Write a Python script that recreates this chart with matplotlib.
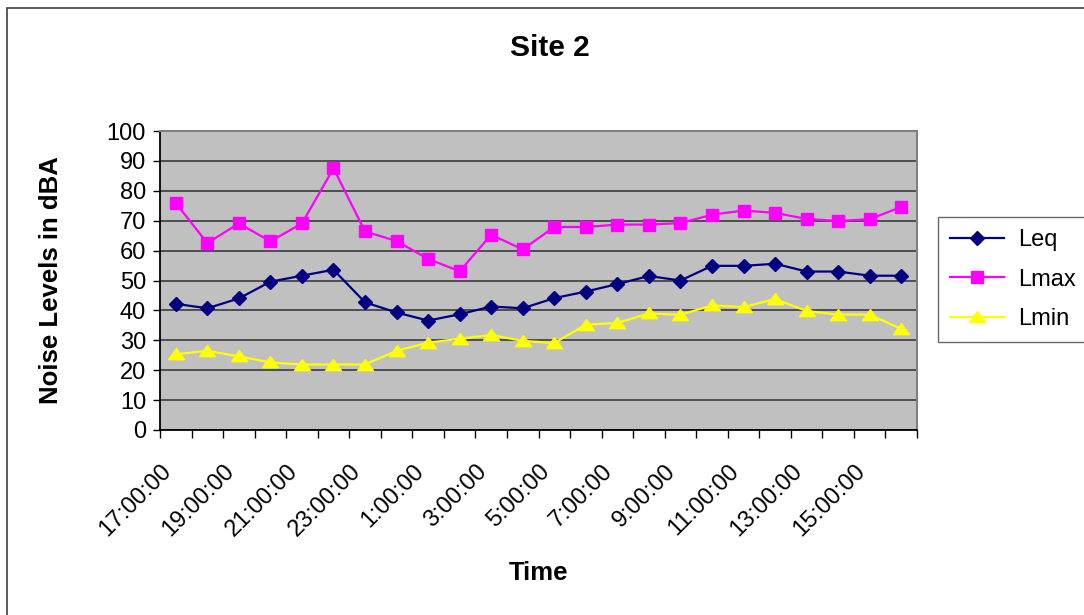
import matplotlib
matplotlib.use("Agg")
import matplotlib.pyplot as plt
from matplotlib.patches import Rectangle
from matplotlib.ticker import FixedLocator, NullFormatter

plt.rcParams['font.family'] = ['Liberation Sans', 'DejaVu Sans']

# ---- data ----
times = ["17:00:00", "18:00:00", "19:00:00", "20:00:00", "21:00:00", "22:00:00",
         "23:00:00", "0:00:00", "1:00:00", "2:00:00", "3:00:00", "4:00:00",
         "5:00:00", "6:00:00", "7:00:00", "8:00:00", "9:00:00", "10:00:00",
         "11:00:00", "12:00:00", "13:00:00", "14:00:00", "15:00:00", "16:00:00"]
leq = [42.2, 40.7, 44.0, 49.6, 51.6, 53.6, 42.7, 39.3, 36.6, 38.7, 41.3, 40.7,
       44.1, 46.3, 48.8, 51.5, 50.0, 54.9, 54.9, 55.6, 53.0, 53.0, 51.6, 51.6]
lmax = [75.9, 62.5, 69.1, 63.1, 69.1, 87.5, 66.4, 63.2, 57.2, 53.1, 65.3, 60.4,
        67.9, 67.9, 68.7, 68.7, 69.2, 72.0, 73.4, 72.6, 70.6, 69.9, 70.5, 74.6]
lmin = [25.3, 26.5, 24.6, 22.6, 21.9, 21.9, 21.9, 26.5, 29.2, 30.5, 31.8, 29.8,
        29.1, 35.2, 35.8, 39.0, 38.5, 41.7, 41.1, 43.8, 39.8, 38.6, 38.6, 33.8]
yticks = list(range(0, 101, 10))

W, H = 1084, 615
fig = plt.figure(figsize=(W / 100, H / 100), dpi=100)
fig.patch.set_facecolor('white')

# outer chart border (cropped on right/bottom)
fig.patches.append(Rectangle((7 / W, -0.1), 1.2, 1 - 8 / H + 0.1,
                             transform=fig.transFigure, fill=False,
                             edgecolor='#404040', linewidth=1.2, zorder=0))

left, right, top, bottom = 160, 917, 131, 430
ax = fig.add_axes([left / W, 1 - bottom / H, (right - left) / W, (bottom - top) / H])
ax.set_facecolor('#C0C0C0')

x = list(range(len(times)))
tri = [(0, 0.75), (-1, -0.65), (1, -0.65), (0, 0.75)]
ax.plot(x, leq, color='#000080', lw=1.6, marker='D', ms=7.2,
        mfc='#000080', mec='#000080', label='Leq', zorder=5)
ax.plot(x, lmax, color='#FF00FF', lw=1.6, marker='s', ms=9.2,
        mfc='#FF00FF', mec='#FF00FF', label='Lmax', zorder=5)
ax.plot(x, lmin, color='#FFFF00', lw=1.6, marker=tri, ms=11.5,
        mfc='#FFFF00', mec='#FFFF00', label='Lmin', zorder=5)

ax.set_xlim(-0.5, len(times) - 0.5)
ax.set_ylim(0, 100)
ax.set_yticks(yticks)
ax.set_yticklabels([str(v) for v in yticks], fontsize=17)
ax.yaxis.grid(True, color='#303030', lw=1.1)
ax.set_axisbelow(True)

# x ticks at category boundaries, labels on every other category
ax.xaxis.set_major_locator(FixedLocator([i - 0.5 for i in range(len(times) + 1)]))
ax.xaxis.set_major_formatter(NullFormatter())
lab_pos = x[::2]
ax.set_xticks(lab_pos, minor=True)
ax.set_xticklabels([times[i] for i in lab_pos], minor=True, fontsize=17,
                   rotation=45, ha='right', va='bottom', rotation_mode='anchor')
ax.tick_params(axis='x', which='major', length=6, width=1.0, direction='out', color='black')
ax.tick_params(axis='x', which='minor', length=0, pad=33)
ax.tick_params(axis='y', which='major', length=5, width=1.0, direction='out', color='black', pad=5)

for s in ['left', 'bottom']:
    ax.spines[s].set_color('black')
    ax.spines[s].set_linewidth(1.3)
for s in ['top', 'right']:
    ax.spines[s].set_color('#808080')
    ax.spines[s].set_linewidth(1.5)

ax.set_ylabel('Noise Levels in dBA', fontsize=18.5, fontweight='bold')
ax.yaxis.set_label_coords((51 - left) / (right - left), 0.5)
ax.set_xlabel('Time', fontsize=18.5, fontweight='bold')
ax.xaxis.set_label_coords(0.5, (bottom - 573) / (bottom - top))
ax.xaxis.label.set_va('center')
ax.yaxis.label.set_va('center')

fig.text(550 / W, 1 - 48 / H, 'Site 2', fontsize=21.5, fontweight='bold',
         ha='center', va='center')

leg = ax.legend(loc='upper left', bbox_to_anchor=(938 / W, 1 - 217 / H),
                bbox_transform=fig.transFigure, borderaxespad=0, fontsize=17,
                frameon=True, fancybox=False, edgecolor='#404040',
                handlelength=2.3, handletextpad=0.6, labelspacing=0.75,
                borderpad=0.5)
leg.get_frame().set_linewidth(1.0)

fig.savefig('out.png', dpi=100)
